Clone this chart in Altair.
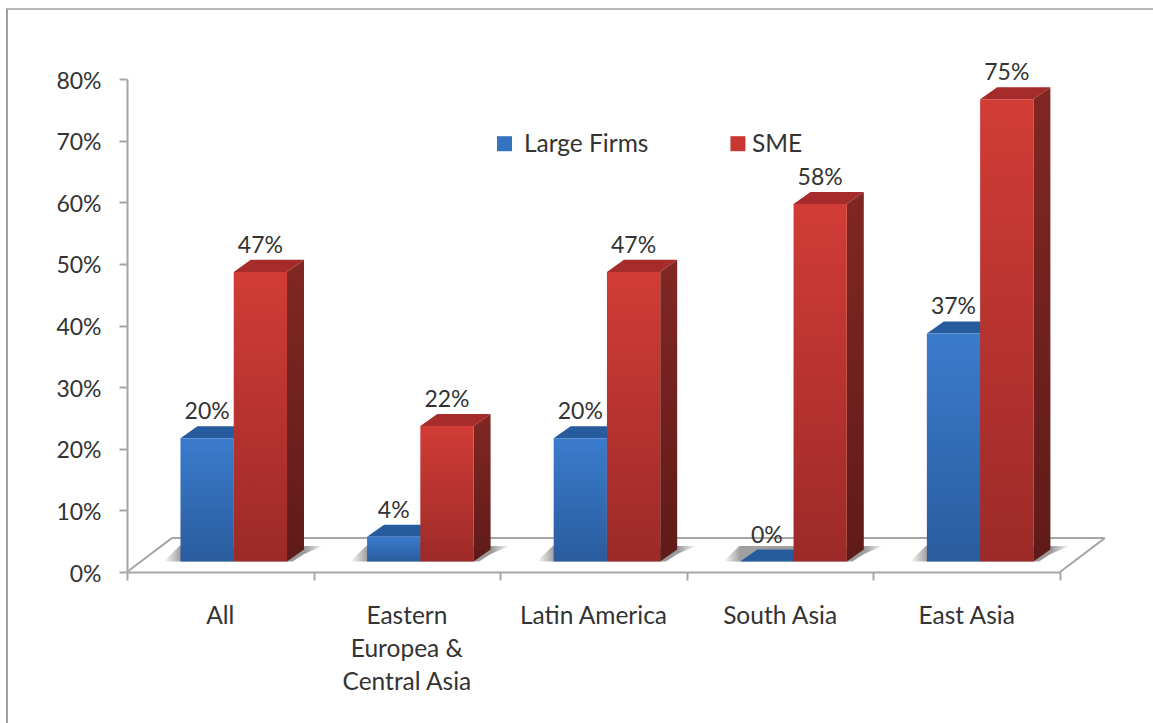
import altair as alt
import pandas as pd

# Survey shares by region
regions = ["All", "Eastern\nEuropea &\nCentral Asia", "Latin America", "South Asia", "East Asia"]
large_firms = [20, 4, 20, 0, 37]
sme = [47, 22, 47, 58, 75]
y_ticks = [0, 10, 20, 30, 40, 50, 60, 70, 80]
x_ticks = [0, 1, 2, 3, 4, 5]

# Extruded-column geometry, in axis units
BASE = 1.7        # height of the front of the floor above the zero line
DEPTH_X = 0.091   # column depth along the slot axis
DEPTH_Y = 1.95    # column depth along the percentage axis
BAR_W = 0.2855
SPLIT = 0.572     # where the two columns of a group meet, within a slot
FLOOR_X = 0.24
FLOOR_Y = 5.5

FONT = "Lato"
TEXT = "#333333"
AXIS_GREY = "#a6a6a6"

X_AXIS = alt.Axis(values=x_ticks, labels=False, grid=False, title=None, tickSize=8, tickWidth=2,
                  tickColor=AXIS_GREY, domainColor=AXIS_GREY, domainWidth=2)
Y_AXIS = alt.Axis(values=y_ticks, grid=False, title=None, tickSize=8, tickWidth=2,
                  tickColor=AXIS_GREY, domainColor=AXIS_GREY, domainWidth=2,
                  labelExpr="datum.value + '%'", labelFont=FONT, labelFontSize=23,
                  labelColor=TEXT, labelPadding=18, labelOffset=2)


def grad(c0, c1):
    return alt.Gradient(gradient="linear", x1=0, x2=0, y1=0, y2=1,
                        stops=[alt.GradientStop(offset=0, color=c0),
                               alt.GradientStop(offset=1, color=c1)])


def X(f="x"):
    return alt.X(f"{f}:Q", axis=X_AXIS, scale=alt.Scale(domain=[0, 5], nice=False))


def Y(f="y"):
    return alt.Y(f"{f}:Q", axis=Y_AXIS, scale=alt.Scale(domain=[0, 80], nice=False))


def columns(values, left_shift):
    rows = []
    for i, v in enumerate(values):
        left = i + SPLIT + left_shift
        rows.append(dict(id=i, x=left, x2=left + BAR_W, y=BASE, y2=BASE + v, v=v))
    return rows


def top_faces(rows):
    out = []
    for r in rows:
        t = r["y2"]
        for x, lo, hi in [(r["x"], t, t),
                          (r["x"] + DEPTH_X, t, t + DEPTH_Y),
                          (r["x2"], t, t + DEPTH_Y),
                          (r["x2"] + DEPTH_X, t + DEPTH_Y, t + DEPTH_Y)]:
            out.append(dict(id=r["id"], x=x, y=lo, y2=hi))
    return pd.DataFrame(out)


def side_faces(rows):
    out = []
    for r in rows:
        out.append(dict(id=r["id"], x=r["x2"], y=r["y"], y2=r["y2"]))
        out.append(dict(id=r["id"], x=r["x2"] + DEPTH_X, y=r["y"] + DEPTH_Y, y2=r["y2"] + DEPTH_Y))
    return pd.DataFrame(out)


def shadows():
    out = []
    for i in range(len(regions)):
        left = i + SPLIT - BAR_W
        right = i + SPLIT + BAR_W
        floor_top = 4.2
        for x, lo, hi in [(left - 0.091, BASE, BASE),
                          (left - 0.005, BASE, floor_top),
                          (right + 0.03, BASE, floor_top),
                          (right + 0.09, BASE + 1.2, floor_top),
                          (right + 0.19, floor_top, floor_top)]:
            out.append(dict(id=i, x=x, y=lo, y2=hi))
    return pd.DataFrame(out)


large_rows = columns(large_firms, -BAR_W)
sme_rows = columns(sme, 0)


def solid_layers(rows, front, side, top):
    df = pd.DataFrame(rows)
    return [
        alt.Chart(top_faces(rows)).mark_area(color=top, line=False).encode(
            x=X(), y=Y(), y2="y2:Q", detail="id:N"),
        alt.Chart(side_faces(rows)).mark_area(color=side, line=False).encode(
            x=X(), y=Y(), y2="y2:Q", detail="id:N"),
        alt.Chart(df).mark_rect(color=front).encode(
            x=X(), x2="x2:Q", y=Y(), y2="y2:Q"),
    ]


# Floor outline behind the columns
floor = pd.DataFrame([
    dict(id="back", x=FLOOR_X, y=FLOOR_Y), dict(id="back", x=5 + FLOOR_X, y=FLOOR_Y),
    dict(id="left", x=0, y=0), dict(id="left", x=FLOOR_X, y=FLOOR_Y),
    dict(id="right", x=5, y=0), dict(id="right", x=5 + FLOOR_X, y=FLOOR_Y),
])
floor_lines = alt.Chart(floor).mark_line(color=AXIS_GREY, strokeWidth=2).encode(
    x=X(), y=Y(), detail="id:N")

shadow_fill = alt.Gradient(gradient="linear", x1=0, x2=1, y1=0, y2=0, stops=[
    alt.GradientStop(offset=0, color="#ffffff"),
    alt.GradientStop(offset=0.107, color="#a0a0a0"),
    alt.GradientStop(offset=0.887, color="#9a9a9a"),
    alt.GradientStop(offset=1, color="#f4f4f4"),
])
shadow_layer = alt.Chart(shadows()).mark_area(fill=shadow_fill, line=False).encode(
    x=X(), y=Y(), y2="y2:Q", detail="id:N")

blue = solid_layers(large_rows, grad("#3b7bcc", "#2a5c9e"), grad("#1f4a80", "#1a3d6b"), "#265c9e")
red = solid_layers(sme_rows, grad("#d23c36", "#9c2a28"), grad("#812723", "#5f1b19"), "#a52c2a")

# Value labels above each column
value_rows = [dict(x=r["x"] + BAR_W / 2, y=r["y2"] + DEPTH_Y, label=f"{r['v']}%") for r in large_rows + sme_rows]
value_labels = alt.Chart(pd.DataFrame(value_rows)).mark_text(
    font=FONT, fontSize=23, color=TEXT, baseline="bottom", dy=-2).encode(
    x=X(), y=Y(), text="label:N")

# Region names under the axis
region_df = pd.DataFrame({"x": [i + 0.5 for i in range(len(regions))], "y": [0] * len(regions), "label": regions})
region_labels = alt.Chart(region_df).mark_text(
    font=FONT, fontSize=24.5, color=TEXT, baseline="top", dy=33, lineBreak="\n", lineHeight=33).encode(
    x=X(), y=Y(), text="label:N")

# Hand-placed key between the plotted groups
key_df = pd.DataFrame([dict(x=2.023, y=69.5, tx=2.127, label="Large Firms", c="#3473c0"),
                       dict(x=3.274, y=69.5, tx=3.349, label="SME", c="#c93733")])
key_marks = alt.Chart(key_df).mark_square(size=225, opacity=1).encode(
    x=X(), y=Y(), color=alt.Color("c:N", scale=None))
key_text = alt.Chart(key_df).mark_text(font=FONT, fontSize=24.5, color=TEXT, align="left", baseline="middle", dy=1).encode(
    x=X("tx"), y=Y(), text="label:N")

# Thin picture frame along the top and left edges
frame_top = alt.Chart(pd.DataFrame({"a": [0]})).mark_rule(color="#a0a0a0", strokeWidth=1.5).encode(
    x=alt.value(-121), x2=alt.value(1026), y=alt.value(-70))
frame_left = alt.Chart(pd.DataFrame({"a": [0]})).mark_rule(color="#a0a0a0", strokeWidth=2).encode(
    x=alt.value(-120), y=alt.value(-70), y2=alt.value(644))

chart = alt.layer(
    floor_lines, shadow_layer, *blue, *red, value_labels, region_labels, key_marks, key_text,
    frame_top, frame_left,
).properties(
    width=933, height=493,
    padding={"left": 127, "top": 79, "right": 93, "bottom": 151},
    autosize=alt.AutoSizeParams(type="none"),
    background="white",
).configure_view(stroke=None)

chart.save("out.html", embed_options={"renderer": "svg", "actions": False})
